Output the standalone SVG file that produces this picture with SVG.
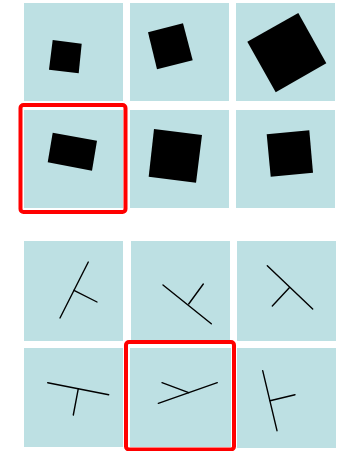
<svg xmlns="http://www.w3.org/2000/svg" width="341" height="451" viewBox="0 0 341 451">
<style>
.p{fill:#bde0e3}
.sq{fill:#000}
.ln{stroke:#000;stroke-width:1.4;fill:none;stroke-linecap:round}
.sel{fill:none;stroke:#f00;stroke-width:4;}
</style>
<rect width="341" height="451" fill="#fff"/>
<g id="top-1"><rect class="p" x="24" y="3" width="99" height="98"/><polygon class="sq" points="52.7,40 81.7,43.7 78.7,73.3 49,69.7"/></g>
<g id="top-2"><rect class="p" x="130" y="3" width="99" height="98"/><polygon class="sq" points="148,32.3 183,23.3 192.7,60.3 157,69.3"/></g>
<g id="top-3"><rect class="p" x="236" y="3" width="99" height="98"/><polygon class="sq" points="247.3,41.7 298.3,13 326.3,63.3 275.7,92.3"/></g>
<g id="top-4"><rect class="p" x="24" y="110" width="99" height="98"/><polygon class="sq" points="52.7,132.7 97,140.7 92,170.7 47.7,162.3"/></g>
<g id="top-5"><rect class="p" x="130" y="110" width="99" height="98"/><polygon class="sq" points="154,129 202,135 196,182.7 148.7,176.7"/></g>
<g id="top-6"><rect class="p" x="236" y="110" width="99" height="98"/><polygon class="sq" points="266.7,134.3 309.3,130.3 313,172.7 270.7,176.7"/></g>
<g id="top-sel"><rect class="sel" x="20.5" y="105" width="105" height="107" rx="3"/></g>

<g id="bot-1"><rect class="p" x="24" y="241" width="99" height="100"/><line class="ln" x1="88.3" y1="262" x2="60" y2="318"/><line class="ln" x1="74" y1="290.3" x2="97" y2="302"/></g>
<g id="bot-2"><rect class="p" x="131" y="241" width="99" height="100"/><line class="ln" x1="163" y1="285" x2="211.3" y2="323.7"/><line class="ln" x1="188.7" y1="304" x2="203.3" y2="284"/></g>
<g id="bot-3"><rect class="p" x="237" y="241" width="99" height="100"/><line class="ln" x1="267.3" y1="265.7" x2="312.7" y2="309"/><line class="ln" x1="289.3" y1="287.7" x2="272.3" y2="306"/></g>
<g id="bot-4"><rect class="p" x="24" y="348" width="99" height="99"/><line class="ln" x1="47.7" y1="382.7" x2="108.7" y2="394.7"/><line class="ln" x1="78.3" y1="388.7" x2="73.3" y2="415"/></g>
<g id="bot-5"><rect class="p" x="130" y="348" width="101" height="99"/><line class="ln" x1="158.3" y1="403.3" x2="217.3" y2="382.7"/><line class="ln" x1="162" y1="382.7" x2="188.7" y2="392.7"/></g>
<g id="bot-6"><rect class="p" x="237" y="348" width="99" height="100"/><line class="ln" x1="262.7" y1="370.7" x2="277" y2="430.7"/><line class="ln" x1="270" y1="400.7" x2="295" y2="394.7"/></g>
<g id="bot-sel"><rect class="sel" x="126" y="342" width="108" height="107.5" rx="3"/></g>
<g id="connectors"></g>
</svg>
